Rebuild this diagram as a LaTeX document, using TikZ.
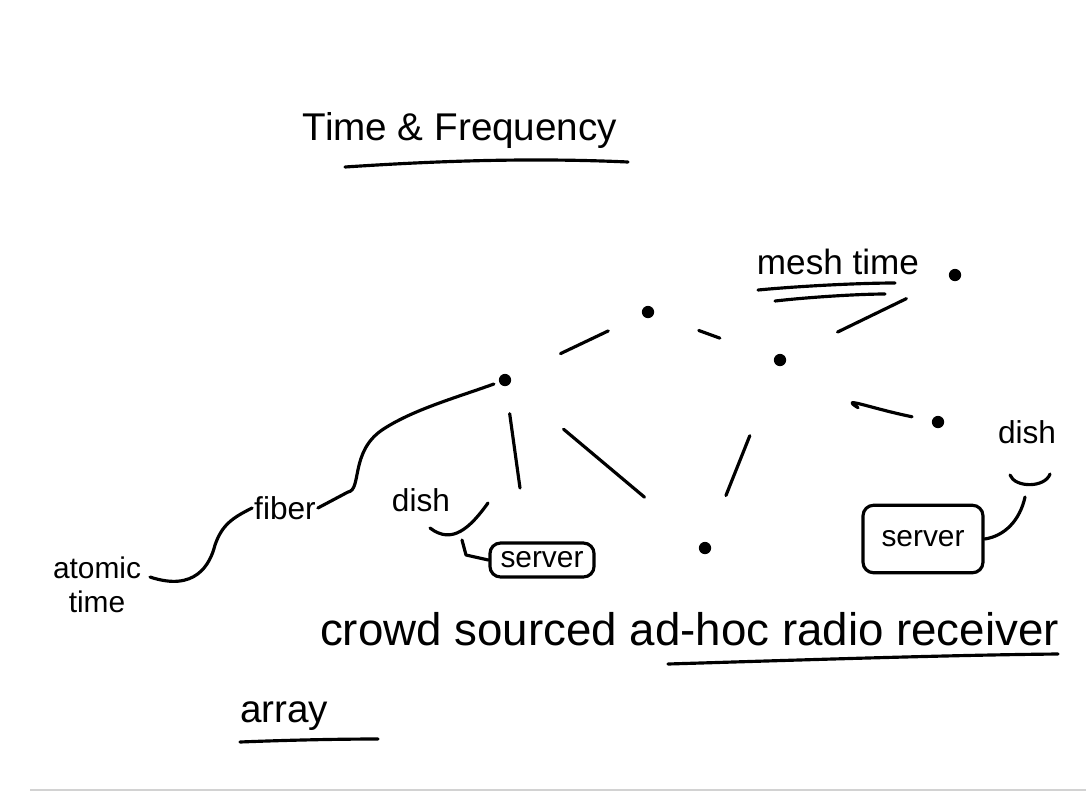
\documentclass[tikz,border=0pt]{standalone}
\usepackage{fontspec}
\setmainfont{Liberation Sans}
\begin{document}
\begin{tikzpicture}[x=0.02cm,y=-0.02cm,
  pen/.style={line width=1.8pt,line cap=round,line join=round},
  dotnode/.style={circle,fill=black,inner sep=0pt,minimum size=7pt},
  lbl/.style={inner sep=1pt,font=\fontsize{#1}{#1}\selectfont},
  serverbox/.style={draw,pen,rounded corners=6pt,inner xsep=6pt,inner ysep=5pt,font=\fontsize{17}{17}\selectfont}]
\useasboundingbox[fill=white] (0,0) rectangle (1086,796);
\draw[gray!35,line width=0.6pt] (30,790) -- (1086,790);
% title
\node[lbl=22] (title) at (460,130) {Time \& Frequency};
\draw[pen] (345,167) .. controls (450,160) and (540,158) .. (628,162);
% network nodes
\node[dotnode] (A) at (505,380) {};
\node[dotnode] (B) at (648,312) {};
\node[dotnode] (C) at (780,360) {};
\node[dotnode] (D) at (955,275) {};
\node[dotnode] (E) at (938,422) {};
\node[dotnode] (F) at (705,548) {};
% mesh edges
\draw[pen,shorten <=1.1cm,shorten >=0.75cm] (A) -- (B);
\draw[pen,shorten <=0.95cm,shorten >=1.15cm] (B) -- (C);
\draw[pen,shorten <=1.15cm,shorten >=0.95cm] (C) -- (D);
\draw[pen,shorten <=1.7cm,shorten >=0.4cm] (C) to[bend right=10] (E);
\draw[pen,shorten <=1.4cm,shorten >=1.45cm] (A) -- (F);
\draw[pen,shorten <=1.5cm,shorten >=1.0cm] (C) -- (F);
% mesh time
\node[lbl=20] (mesh) at (838,262) {mesh time};
\draw[pen] (758,290) .. controls (800,286) and (860,283) .. (895,283);
\draw[pen] (775,301) .. controls (810,297) and (860,294) .. (885,294);
% labels left
\node[lbl=18] (fiber) at (285,508) {fiber};
\node[lbl=17,align=center] (atomic) at (97,585) {atomic\\[2pt]time};
\draw[pen,shorten >=3pt] (fiber.east) -- (348,492) .. controls (362,490) and (350,452) .. (382,430) .. controls (412,410) and (455,398) .. (A);
\draw[pen] (150,577) .. controls (195,592) and (210,565) .. (215,545) .. controls (222,525) and (232,518) .. (fiber.west);
% server 1 and dish 1
\node[serverbox] (S1) at (542,560) {server};
\coordinate (S1top) at (520,488);
\draw[pen,shorten <=0.55cm] (A) -- (S1top);
\node[lbl=18] (dish1) at (421,500) {dish};
\draw[pen] (430,528) .. controls (452,545) and (470,528) .. (488,503);
\draw[pen] (462,540) -- (466,555) -- (S1.west);
% server 2 and dish 2
\node[serverbox,minimum width=2.4cm,minimum height=1.35cm] (S2) at (923,539) {server};
\node[lbl=18] (dish2) at (1027,432) {dish};
\draw[pen] (1010,475) .. controls (1015,488) and (1045,488) .. (1050,474);
\draw[pen] (1025,497) .. controls (1020,520) and (1005,536) .. (S2.east);
% bottom text
\node[lbl=26,anchor=base west] (crowd) at (318,645) {crowd sourced ad-hoc radio receiver};
\draw[pen] (668,664) .. controls (800,660) and (950,655) .. (1058,654);
\node[lbl=22,anchor=base west] (array) at (238,722) {array};
\draw[pen] (240,742) .. controls (290,740) and (340,739) .. (378,739);
\end{tikzpicture}
\end{document}
